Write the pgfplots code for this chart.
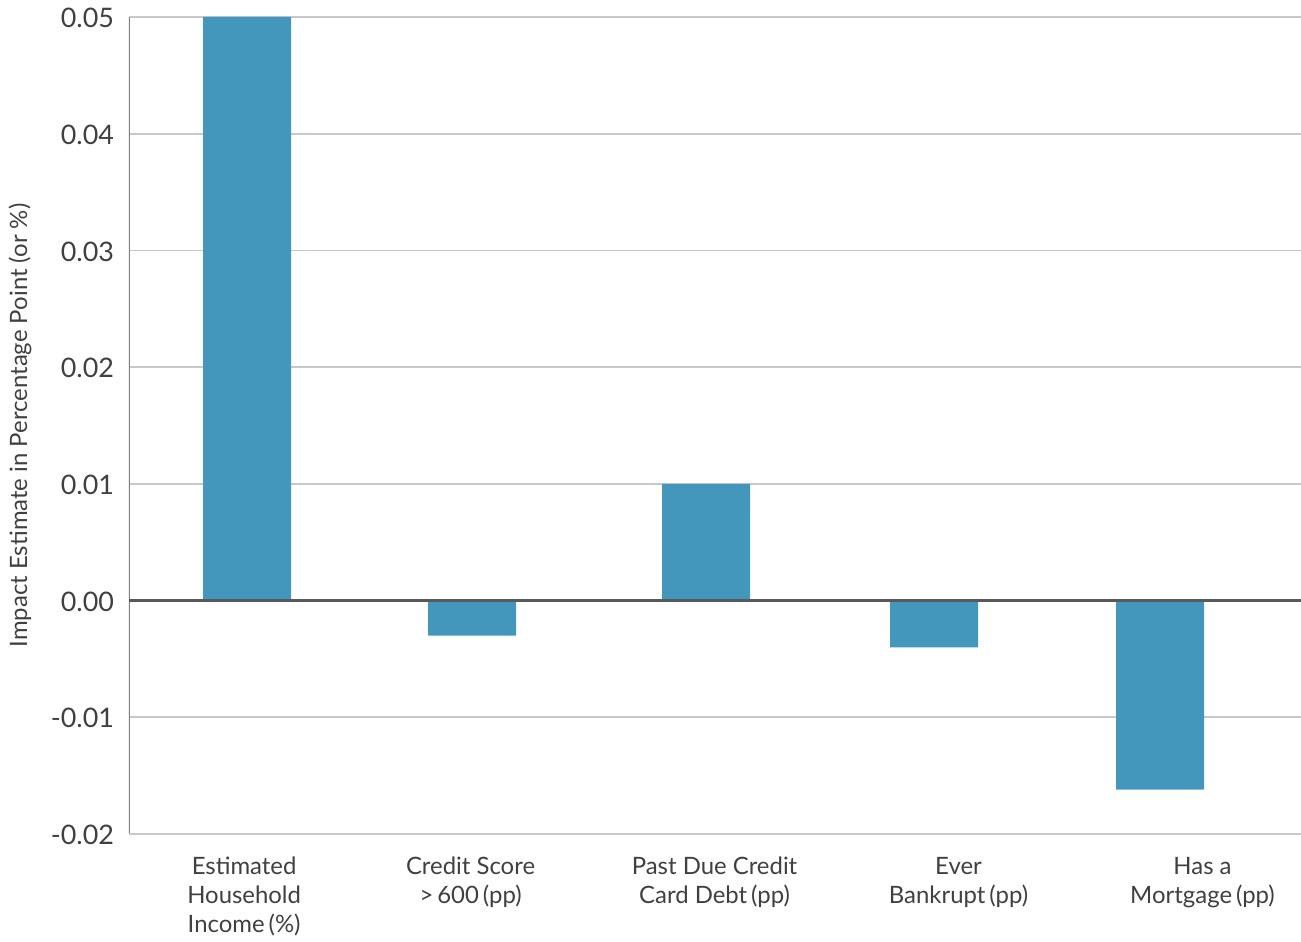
\documentclass[border=0pt]{standalone}
\usepackage{pgfplots}
\pgfplotsset{compat=1.18}
\usepackage{fontspec}
\setmainfont{Lato}
\definecolor{barblue}{HTML}{4396BC}
\definecolor{gridgray}{HTML}{C8C8C8}
\definecolor{zerogray}{HTML}{595959}
\definecolor{axisgray}{HTML}{808080}
\definecolor{textgray}{HTML}{404040}
\begin{document}
\begin{tikzpicture}
\begin{axis}[
  scale only axis, width=586bp, height=408.5bp,
  xmin=-0.518, xmax=4.622,
  ymin=-0.02, ymax=0.05,
  ytick={-0.02,-0.01,0,0.01,0.02,0.03,0.04,0.05},
  scaled y ticks=false,
  ymajorgrids, grid style={gridgray, line width=0.8pt},
  axis line style={draw=none},
  major tick length=0pt,
  xtick={-0.013,0.98,2.05,3.12,4.19},
  xticklabels={Estimated\\Household\\Income\,(\%), Credit Score\\>\,600\,(pp), Past Due Credit\\Card Debt\,(pp), Ever\\Bankrupt\,(pp), Has a\\Mortgage\,(pp)},
  xticklabel style={align=center, font=\fontsize{12}{14.5}\selectfont, text=textgray, yshift=-8bp},
  yticklabel style={font=\fontsize{13.5}{16}\selectfont, text=textgray, /pgf/number format/fixed, /pgf/number format/fixed zerofill, /pgf/number format/precision=2, xshift=-4bp, yshift=-0.5bp},
  /pgf/number format/assume math mode=true,
  ylabel={Impact Estimate in Percentage Point (or \%)},
  every axis y label/.style={at={(axis description cs:0,0.5)}, xshift=-54.5bp, rotate=90, anchor=center,
    font=\fontsize{12}{14}\selectfont, text=textgray},
  ybar, bar width=44bp,
]
\addplot[fill=barblue, draw=none, bar shift=0pt] coordinates {
  (0,0.05) (0.987,-0.003) (2.013,0.01) (3.013,-0.004) (4.004,-0.0162)};
\draw[axisgray, line width=1pt] (axis cs:-0.518,-0.02) -- (axis cs:-0.518,0.05);
\draw[gridgray, line width=1pt] (axis cs:-0.518,-0.02) -- (axis cs:4.622,-0.02);
\draw[zerogray, line width=1.2pt] (axis cs:-0.518,0) -- (axis cs:4.622,0);
\end{axis}
\pgfresetboundingbox
\path[use as bounding box] (-64.5bp,-54bp) rectangle (586bp,417bp);
\end{tikzpicture}
\end{document}
